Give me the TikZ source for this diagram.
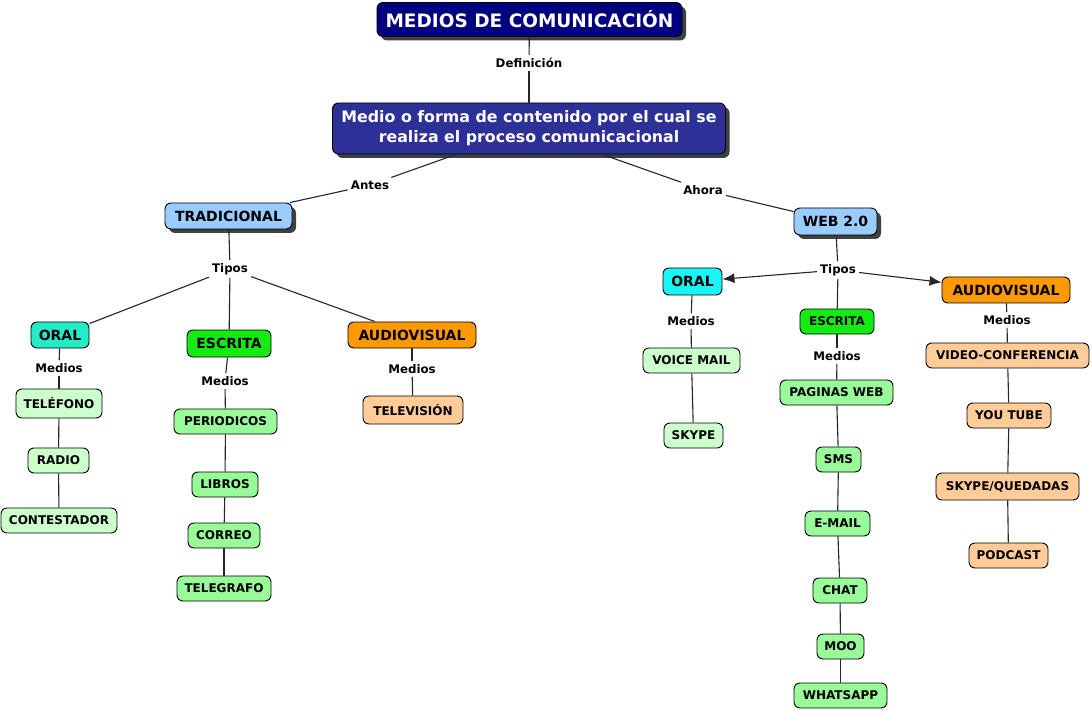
\documentclass[tikz,border=0pt]{standalone}
\usepackage{fontspec}
\setmainfont{DejaVu Sans}
\usetikzlibrary{arrows.meta,shadows}
\definecolor{navyc}{RGB}{0,0,128}
\definecolor{medblue}{RGB}{45,48,150}
\definecolor{lblue}{RGB}{153,204,255}
\definecolor{tealc}{RGB}{36,235,200}
\definecolor{cyanc}{RGB}{25,245,245}
\definecolor{greenc}{RGB}{20,235,20}
\definecolor{orangec}{RGB}{255,153,0}
\definecolor{lgreen}{RGB}{204,255,204}
\definecolor{mgreen}{RGB}{153,250,153}
\definecolor{peach}{RGB}{255,204,153}
\tikzset{
  box/.style={draw=black, line width=0.9pt, rounded corners=6pt, align=center, inner xsep=4pt, inner ysep=2pt},
  shad/.style={drop shadow={shadow xshift=4pt, shadow yshift=-4pt, fill=black!75, opacity=1}},
  fbig/.style={font=\bfseries\fontsize{14}{16}\selectfont},
  fsmall/.style={font=\bfseries\fontsize{12}{14}\selectfont},
  lbl/.style={font=\bfseries\fontsize{11.8}{13}\selectfont, inner sep=3pt},
  conn/.style={draw=black!85, line width=1.1pt},
  arr/.style={conn, -{Latex[length=12pt,width=10pt]}}
}
\begin{document}
\begin{tikzpicture}[x=1pt,y=-1pt]
\fill[white] (0,0) rectangle (1092,711);
\useasboundingbox (0,0) rectangle (1092,711);
% top
\node[box, shad, fill=navyc, text=white, minimum width=305, minimum height=34, font=\bfseries\fontsize{18.5}{20}\selectfont] (title) at (529.5,19.5) {MEDIOS DE COMUNICACIÓN};
\node[lbl] (def) at (529,63) {Definición};
\node[box, shad, fill=medblue, text=white, minimum width=393, minimum height=51, font=\bfseries\fontsize{15.8}{20}\selectfont] (medio) at (529,128.5) {Medio o forma de contenido por el cual se\\realiza el proceso comunicacional};
\node[lbl] (antes) at (370,185) {Antes};
\node[lbl] (ahora) at (703,190) {Ahora};
\node[box, shad, fill=lblue, fbig, minimum width=127, minimum height=26] (trad) at (228.5,216) {TRADICIONAL};
\node[box, shad, fill=lblue, fbig, minimum width=83, minimum height=27] (web) at (835.5,221.5) {WEB 2.0};
\node[lbl] (tiposL) at (230,269) {Tipos};
\node[lbl] (tiposR) at (838,270) {Tipos};
% left branch
\node[box, fill=tealc, fbig, minimum width=58, minimum height=26] (oralL) at (60,335) {ORAL};
\node[box, fill=greenc, fbig, minimum width=84, minimum height=27] (escL) at (229,343.5) {ESCRITA};
\node[box, fill=orangec, fbig, minimum width=128, minimum height=26] (avL) at (412,335) {AUDIOVISUAL};
\node[lbl] (mL1) at (59,368) {Medios};
\node[lbl] (mL2) at (225,381) {Medios};
\node[lbl] (mL3) at (412,369) {Medios};
\node[box, fill=lgreen, fsmall, minimum width=86, minimum height=29] (tel) at (59,403.5) {TELÉFONO};
\node[box, fill=lgreen, fsmall, minimum width=61, minimum height=25] (radio) at (58.5,460.5) {RADIO};
\node[box, fill=lgreen, fsmall, minimum width=116, minimum height=25] (cont) at (59,520.5) {CONTESTADOR};
\node[box, fill=mgreen, fsmall, minimum width=103, minimum height=25] (per) at (225.5,421.5) {PERIODICOS};
\node[box, fill=mgreen, fsmall, minimum width=66, minimum height=25] (lib) at (225,484.5) {LIBROS};
\node[box, fill=mgreen, fsmall, minimum width=72, minimum height=25] (cor) at (224,535.5) {CORREO};
\node[box, fill=mgreen, fsmall, minimum width=94, minimum height=25] (telg) at (224,588.5) {TELEGRAFO};
\node[box, fill=peach, fsmall, minimum width=100, minimum height=28] (tv) at (413,410) {TELEVISIÓN};
% right branch
\node[box, fill=cyanc, fbig, minimum width=59, minimum height=27] (oralR) at (692.5,281.5) {ORAL};
\node[box, fill=greenc, fsmall, minimum width=74, minimum height=25] (escR) at (837,321.5) {ESCRITA};
\node[box, fill=orangec, fbig, minimum width=128, minimum height=26] (avR) at (1006,290) {AUDIOVISUAL};
\node[lbl] (mR1) at (691,321) {Medios};
\node[lbl] (mR2) at (837,356) {Medios};
\node[lbl] (mR3) at (1007,320) {Medios};
\node[box, fill=lgreen, fsmall, minimum width=97, minimum height=25] (vm) at (691.5,360.5) {VOICE MAIL};
\node[box, fill=lgreen, fsmall, minimum width=59, minimum height=25] (sky) at (693.5,435.5) {SKYPE};
\node[box, fill=mgreen, fsmall, minimum width=113, minimum height=25] (pw) at (836.5,392.5) {PAGINAS WEB};
\node[box, fill=mgreen, fsmall, minimum width=45, minimum height=25] (sms) at (838.5,459.5) {SMS};
\node[box, fill=mgreen, fsmall, minimum width=65, minimum height=25] (em) at (837.5,523.5) {E-MAIL};
\node[box, fill=mgreen, fsmall, minimum width=54, minimum height=25] (chat) at (840,590.5) {CHAT};
\node[box, fill=mgreen, fsmall, minimum width=47, minimum height=25] (moo) at (840.5,646.5) {MOO};
\node[box, fill=mgreen, fsmall, minimum width=93, minimum height=25] (wa) at (840.5,695.5) {WHATSAPP};
\node[box, fill=peach, fsmall, minimum width=163, minimum height=25] (vc) at (1007.5,355.5) {VIDEO-CONFERENCIA};
\node[box, fill=peach, fsmall, minimum width=84, minimum height=25] (yt) at (1009,415.5) {YOU TUBE};
\node[box, fill=peach, fsmall, minimum width=143, minimum height=27] (sq) at (1007.5,486.5) {SKYPE/QUEDADAS};
\node[box, fill=peach, fsmall, minimum width=79, minimum height=25] (pod) at (1008.5,555.5) {PODCAST};
% connectors
\draw[conn] (title) -- (def);
\draw[conn] (def) -- (medio);
\draw[conn] (medio) -- (antes);
\draw[conn] (antes) -- (trad);
\draw[conn] (medio) -- (ahora);
\draw[conn] (ahora) -- (web);
\draw[conn] (trad) -- (tiposL);
\draw[conn] (tiposL) -- (oralL);
\draw[conn] (tiposL) -- (escL);
\draw[conn] (tiposL) -- (avL);
\draw[conn] (oralL) -- (mL1);
\draw[conn] (mL1) -- (tel);
\draw[conn] (tel) -- (radio);
\draw[conn] (radio) -- (cont);
\draw[conn] (escL) -- (mL2);
\draw[conn] (mL2) -- (per);
\draw[conn] (per) -- (lib);
\draw[conn] (lib) -- (cor);
\draw[conn] (cor) -- (telg);
\draw[conn] (avL) -- (mL3);
\draw[conn] (mL3) -- (tv);
\draw[conn] (web) -- (tiposR);
\draw[arr] (tiposR) -- (oralR);
\draw[conn] (tiposR) -- (escR);
\draw[arr] (tiposR) -- (avR);
\draw[conn] (oralR) -- (mR1);
\draw[conn] (mR1) -- (vm);
\draw[conn] (vm) -- (sky);
\draw[conn] (escR) -- (mR2);
\draw[conn] (mR2) -- (pw);
\draw[conn] (pw) -- (sms);
\draw[conn] (sms) -- (em);
\draw[conn] (em) -- (chat);
\draw[conn] (chat) -- (moo);
\draw[conn] (moo) -- (wa);
\draw[conn] (avR) -- (mR3);
\draw[conn] (mR3) -- (vc);
\draw[conn] (vc) -- (yt);
\draw[conn] (yt) -- (sq);
\draw[conn] (sq) -- (pod);
\end{tikzpicture}
\end{document}
